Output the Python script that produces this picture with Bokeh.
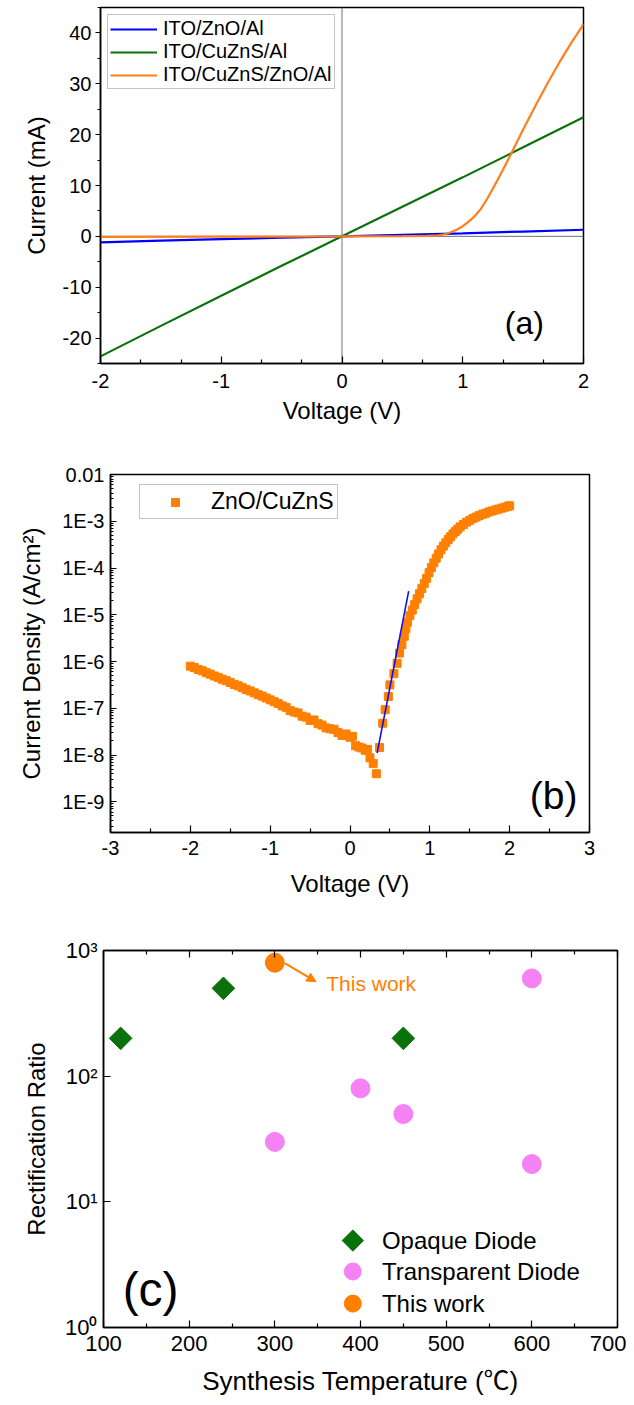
import numpy as np
from bokeh.plotting import figure
from bokeh.layouts import column, row
from bokeh.core.properties import value
from bokeh.models import (FixedTicker, CustomJSTickFormatter, Legend, Span, Label,
                          Arrow, NormalHead, LinearAxis, Range1d)
from bokeh.embed import file_html
from bokeh.resources import INLINE

FONT = "Liberation Sans, Arial, sans-serif"
FONT_C = "Liberation Sans, Noto Sans CJK SC, sans-serif"

# ---------------- Panel (a): I-V curves ----------------
v_a = [-2.0, -1.5, -1.0, -0.5, 0.0, 0.5, 1.0, 1.5, 2.0]
i_zno = [-1.2, -0.85, -0.55, -0.25, 0.0, 0.3, 0.6, 0.95, 1.3]
i_cuzns = [-23.6, -17.6, -11.7, -5.8, 0.0, 5.8, 11.6, 17.5, 23.4]
v_het = [-2.0, -1.0, 0.0, 0.5, 0.7, 0.8, 0.85, 0.9, 0.95, 1.0, 1.05, 1.1, 1.15,
         1.2, 1.25, 1.3, 1.35, 1.4, 1.5, 1.6, 1.7, 1.8, 1.9, 2.0]
i_het = [-0.1, -0.05, 0.0, 0.05, 0.1, 0.2, 0.4, 0.8, 1.3, 2.0, 2.9, 4.0, 5.4,
         7.3, 9.4, 11.6, 13.9, 16.2, 21.0, 25.6, 30.0, 34.2, 38.1, 41.7]
labels_a = ["ITO/ZnO/Al", "ITO/CuZnS/Al", "ITO/CuZnS/ZnO/Al"]

# ---------------- Panel (b): J-V (log) ----------------
zc_v = [-2.00, -1.95, -1.90, -1.85, -1.80, -1.75, -1.70, -1.65, -1.60, -1.55,
        -1.50, -1.45, -1.40, -1.35, -1.30, -1.25, -1.20, -1.15, -1.10, -1.05,
        -1.00, -0.95, -0.90, -0.85, -0.80, -0.75, -0.70, -0.65, -0.60, -0.55,
        -0.50, -0.45, -0.40, -0.35, -0.30, -0.25, -0.20, -0.15, -0.10, -0.05,
        0.00, 0.03, 0.07, 0.11, 0.15, 0.19, 0.22, 0.25, 0.29, 0.33,
        0.37, 0.41, 0.44, 0.48, 0.50, 0.55, 0.59, 0.62, 0.65, 0.68,
        0.70, 0.72, 0.75, 0.78, 0.81, 0.84, 0.87, 0.90, 0.93, 0.96,
        0.99, 1.02, 1.05, 1.08, 1.11, 1.14, 1.17, 1.20, 1.23, 1.26,
        1.29, 1.32, 1.35, 1.38, 1.42, 1.46, 1.50, 1.54, 1.58, 1.62,
        1.66, 1.70, 1.74, 1.78, 1.82, 1.86, 1.90, 1.94, 1.98, 2.00]
zc_logj = [-6.10, -6.13, -6.17, -6.20, -6.24, -6.27, -6.31, -6.34, -6.38, -6.41,
           -6.45, -6.49, -6.52, -6.56, -6.60, -6.63, -6.67, -6.71, -6.74, -6.78,
           -6.82, -6.86, -6.90, -6.95, -6.98, -7.05, -7.08, -7.10, -7.17, -7.19,
           -7.26, -7.25, -7.33, -7.36, -7.42, -7.44, -7.45, -7.52, -7.58, -7.55,
           -7.62, -7.60, -7.80, -7.83, -7.85, -7.90, -7.88, -8.06, -8.18, -8.40,
           -7.84, -7.32, -7.03, -6.75, -6.50, -6.26, -6.04, -5.82, -5.64, -5.46,
           -5.30, -5.16, -5.02, -4.90, -4.78, -4.66, -4.55, -4.44, -4.33, -4.22,
           -4.10, -3.99, -3.89, -3.79, -3.70, -3.61, -3.53, -3.46, -3.39, -3.33,
           -3.27, -3.22, -3.17, -3.12, -3.07, -3.02, -2.98, -2.94, -2.91, -2.88,
           -2.85, -2.83, -2.80, -2.78, -2.76, -2.74, -2.72, -2.70, -2.68, -2.67]
zc_j = [10.0 ** e for e in zc_logj]
fit_v = [0.34, 0.735]
fit_j = [1.1e-8, 3.2e-5]

# ---------------- Panel (c): rectification ratio ----------------
opaque_t = [120, 240, 450]
opaque_r = [200, 500, 200]
transp_t = [300, 400, 450, 600, 600]
transp_r = [30, 80, 50, 600, 20]
this_t = [300]
this_r = [800]
labels_c = ["Opaque Diode", "Transparent Diode", "This work"]

ORANGE = "#ff8000"
GREEN = "#0a720a"
PINK = "#f582f5"

INT_FMT = CustomJSTickFormatter(code="return tick.toFixed(0);")


def base_style(p):
    p.grid.visible = False
    p.outline_line_color = "black"
    p.outline_line_width = 1.5
    p.background_fill_color = "white"
    p.border_fill_color = "white"
    for ax in p.axis:
        ax.axis_line_width = 1.5
        ax.axis_line_color = "black"
        ax.major_tick_line_width = 1.2
        ax.minor_tick_line_width = 1.2
        ax.major_label_text_font = FONT
        ax.major_label_text_font_size = "20px"
        ax.major_label_text_color = "black"
        ax.axis_label_text_font = FONT
        ax.axis_label_text_font_size = "24px"
        ax.axis_label_text_font_style = "normal"
        ax.axis_label_text_color = "black"


# ---------- figure (a) ----------
p1 = figure(frame_width=483, frame_height=356, x_range=Range1d(-2, 2), y_range=Range1d(-25, 45),
            min_border_left=100, min_border_right=43, min_border_top=7, min_border_bottom=85,
            output_backend="svg", toolbar_location=None)
base_style(p1)
p1.add_layout(Span(location=0, dimension="width", line_color="#707070", line_width=1, level="underlay"))
p1.add_layout(Span(location=0, dimension="height", line_color="#707070", line_width=1, level="underlay"))
r1 = p1.line(v_a, i_zno, line_color="#0000ff", line_width=2.2)
r2 = p1.line(v_a, i_cuzns, line_color=GREEN, line_width=2.2)
r3 = p1.line(v_het, i_het, line_color="#ff7f1a", line_width=2.2)
p1.xaxis.ticker = FixedTicker(ticks=[-2, -1, 0, 1, 2],
                              minor_ticks=[-5/3, -4/3, -2/3, -1/3, 1/3, 2/3, 4/3, 5/3])
p1.yaxis.ticker = FixedTicker(ticks=[-20, -10, 0, 10, 20, 30, 40],
                              minor_ticks=[-25, -15, -5, 5, 15, 25, 35, 45])
p1.xaxis.formatter = INT_FMT
p1.yaxis.formatter = INT_FMT
p1.xaxis.major_tick_in = 7
p1.xaxis.major_tick_out = 0
p1.xaxis.minor_tick_in = 4
p1.xaxis.minor_tick_out = 0
p1.xaxis.major_label_standoff = 10
p1.xaxis.axis_label = "Voltage (V)"
p1.xaxis.axis_label_standoff = 6
p1.yaxis.major_tick_in = 0
p1.yaxis.major_tick_out = 5
p1.yaxis.minor_tick_in = 0
p1.yaxis.minor_tick_out = 3
p1.yaxis.major_label_standoff = 4
p1.yaxis.axis_label = "Current (mA)"
p1.yaxis.axis_label_standoff = 10
leg1 = Legend(items=[(labels_a[0], [r1]), (labels_a[1], [r2]), (labels_a[2], [r3])],
              location="top_left", margin=7, padding=2, spacing=0,
              glyph_width=47, glyph_height=20, label_height=20, label_standoff=6,
              label_text_font=FONT, label_text_font_size="20px", label_text_color="black",
              border_line_color="#8a8a8a", border_line_width=1.2, background_fill_alpha=1)
p1.add_layout(leg1)
p1.add_layout(Label(x=1.51, y=-17.1, text="(a)", text_font=FONT, text_font_size="32px",
                    text_color="black", text_align="center", text_baseline="middle"))

# ---------- figure (b) ----------
p2 = figure(frame_width=479, frame_height=358, x_range=Range1d(-3, 3), y_range=Range1d(2.2e-10, 1e-2),
            y_axis_type="log", min_border_left=110, min_border_right=37, min_border_top=26,
            min_border_bottom=75, output_backend="svg", toolbar_location=None)
base_style(p2)
r_b = p2.scatter(zc_v, zc_j, marker="square", size=8, fill_color=ORANGE, line_color=ORANGE)
p2.line(fit_v, fit_j, line_color="#1010ee", line_width=1.6)
p2.xaxis.ticker = FixedTicker(ticks=[-3, -2, -1, 0, 1, 2, 3],
                              minor_ticks=[-2.5, -1.5, -0.5, 0.5, 1.5, 2.5])
p2.xaxis.formatter = INT_FMT
decades = [1e-2, 1e-3, 1e-4, 1e-5, 1e-6, 1e-7, 1e-8, 1e-9]
minor_b = [m * 10.0 ** k for k in range(-10, -2) for m in range(2, 10)]
p2.yaxis.ticker = FixedTicker(ticks=decades, minor_ticks=minor_b)
p2.yaxis.formatter = CustomJSTickFormatter(
    code="const e = Math.round(Math.log10(tick)); return e == -2 ? '0.01' : '1E' + e;")
p2.xaxis.major_tick_in = 7
p2.xaxis.major_tick_out = 0
p2.xaxis.minor_tick_in = 4
p2.xaxis.minor_tick_out = 0
p2.xaxis.major_label_standoff = 8
p2.xaxis.axis_label = "Voltage (V)"
p2.xaxis.axis_label_standoff = 12
p2.yaxis.major_tick_in = 6
p2.yaxis.major_tick_out = 0
p2.yaxis.minor_tick_in = 3
p2.yaxis.minor_tick_out = 0
p2.yaxis.major_label_standoff = 6
p2.yaxis.axis_label = "Current Density (A/cm\u00b2)"
p2.yaxis.axis_label_standoff = 14
leg2 = Legend(items=[("ZnO/CuZnS", [r_b])], location=(29, 313), padding=3, spacing=0,
              glyph_width=64, glyph_height=20, label_height=20, label_standoff=4,
              label_text_font=FONT, label_text_font_size="23px", label_text_color="black",
              border_line_color="#8a8a8a", border_line_width=1.2)
p2.add_layout(leg2)
p2.add_layout(Label(x=2.55, y=1.35e-9, text="(b)", text_font=FONT, text_font_size="39px",
                    text_color="black", text_align="center", text_baseline="middle"))

# ---------- figure (c) ----------
p3 = figure(frame_width=514, frame_height=377, x_range=Range1d(100, 700), y_range=Range1d(1, 1000),
            y_axis_type="log", min_border_left=103, min_border_right=9, min_border_top=43,
            min_border_bottom=74, output_backend="svg", toolbar_location=None)
top_axis = LinearAxis(formatter=CustomJSTickFormatter(code="return '';"), major_label_standoff=0,
                      major_tick_in=7, major_tick_out=0, minor_tick_in=4, minor_tick_out=0)
p3.add_layout(top_axis, "above")
base_style(p3)
top_axis.major_label_text_font_size = "1px"
ticks_c = FixedTicker(ticks=[100, 200, 300, 400, 500, 600, 700],
                      minor_ticks=[150, 250, 350, 450, 550, 650])
p3.xaxis.ticker = ticks_c
p3.yaxis.ticker = FixedTicker(ticks=[1, 10, 100, 1000], minor_ticks=[])
p3.yaxis.formatter = CustomJSTickFormatter(
    code="const s = ['\u2070', '\u00b9', '\u00b2', '\u00b3']; return '10' + s[Math.round(Math.log10(tick))];")
for ax in p3.xaxis:
    ax.major_tick_in = 7
    ax.major_tick_out = 0
    ax.minor_tick_in = 4
    ax.minor_tick_out = 0
bottom_c = p3.below[0]
bottom_c.major_label_text_font_size = "22px"
bottom_c.major_label_standoff = 8
bottom_c.axis_label = "Synthesis Temperature (\u2103)"
bottom_c.axis_label_text_font = FONT_C
bottom_c.axis_label_text_font_size = "26px"
bottom_c.axis_label_standoff = 12
p3.yaxis.major_tick_in = 7
p3.yaxis.major_tick_out = 0
p3.yaxis.major_label_text_font_size = "22px"
p3.yaxis.major_label_standoff = 6
p3.yaxis.axis_label = "Rectification Ratio"
p3.yaxis.axis_label_standoff = 12

p3.scatter(opaque_t, opaque_r, marker="square", angle=np.pi / 4, size=16,
           fill_color=GREEN, line_color=GREEN)
p3.scatter(transp_t, transp_r, marker="circle", size=19, fill_color=PINK, line_color=PINK)
p3.scatter(this_t, this_r, marker="circle", size=19, fill_color=ORANGE, line_color=ORANGE)
p3.add_layout(Arrow(end=NormalHead(size=9, fill_color=ORANGE, line_color=ORANGE),
                    x_start=312, y_start=790, x_end=348, y_end=565,
                    line_color=ORANGE, line_width=2))
p3.add_layout(Label(x=360, y=550, text="This work", text_font=FONT, text_font_size="21px",
                    text_color=ORANGE, text_baseline="middle"))

# legend of panel (c), drawn by hand so that the diamond keeps its orientation
leg_x_marker = 391
leg_x_text = 425
leg_rows = [4.92, 2.79, 1.55]
p3.scatter([leg_x_marker], [leg_rows[0]], marker="square", angle=np.pi / 4, size=15,
           fill_color=GREEN, line_color=GREEN)
p3.scatter([leg_x_marker], [leg_rows[1]], marker="circle", size=17, fill_color=PINK, line_color=PINK)
p3.scatter([leg_x_marker], [leg_rows[2]], marker="circle", size=17, fill_color=ORANGE, line_color=ORANGE)
p3.text(x=[leg_x_text] * 3, y=leg_rows, text=labels_c, text_font=value(FONT),
        text_font_size="24px", text_baseline="middle", text_color="black")
p3.add_layout(Label(x=155, y=2.0, text="(c)", text_font=FONT, text_font_size="48px",
                    text_color="black", text_align="center", text_baseline="middle"))

layout = column(row(p1), row(p2), row(p3), spacing=0)
open("out.html", "w").write(file_html(layout, INLINE))
